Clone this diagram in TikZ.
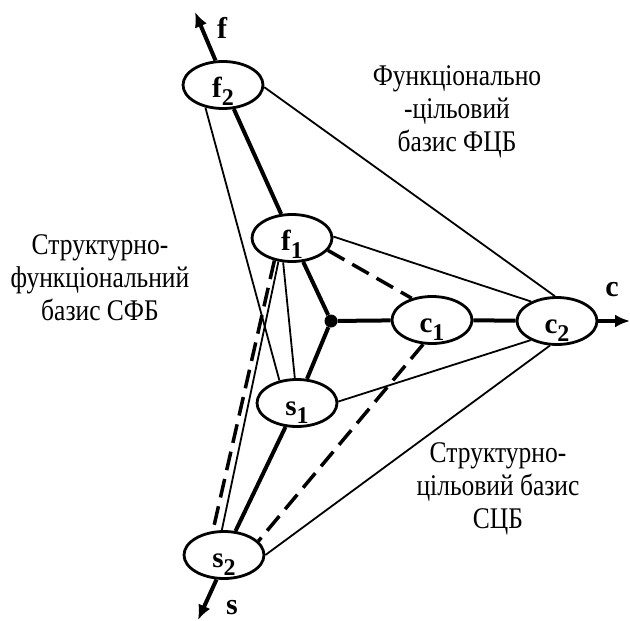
\documentclass[tikz,border=0pt]{standalone}
\usepackage{fontspec}
\setmainfont{Liberation Serif}
\newfontfamily\narrowfont[FakeStretch=0.85]{Liberation Serif}
\usetikzlibrary{shapes.geometric,arrows.meta}
\newcommand{\nlab}[2]{#1\raisebox{-8pt}{\fontsize{24}{24}\selectfont #2}}
\begin{document}
\begin{tikzpicture}[x=1pt,y=-1pt,
  nd/.style={ellipse,draw,line width=2.8pt,minimum width=80pt,minimum height=47pt,inner sep=0pt,text height=25pt,text depth=0pt,font=\rmfamily\bfseries\fontsize{29}{29}\selectfont},
  thickln/.style={line width=4pt},
  thinln/.style={line width=1.8pt},
  dashln/.style={line width=3.5pt,dash pattern=on 19pt off 9pt},
  axisln/.style={line width=4pt,-{Latex[length=15pt,width=13pt]}},
  lbl/.style={font=\narrowfont\fontsize{30}{33}\selectfont,align=center,inner sep=0pt},
  axlbl/.style={font=\rmfamily\bfseries\fontsize{30}{30}\selectfont,inner sep=0pt}]
\useasboundingbox (0,0) rectangle (630,621);
\node[nd] (f2) at (223,85) {\nlab{f}{2}};
\node[nd] (f1) at (292,238) {\nlab{f}{1}};
\node[nd] (c1) at (432,320) {\nlab{c}{1}};
\node[nd] (c2) at (557,321) {\nlab{c}{2}};
\node[nd] (s1) at (297,403) {\nlab{s}{1}};
\node[nd] (s2) at (224,555) {\nlab{s}{2}};
\node[circle,fill=black,inner sep=0pt,minimum size=13pt] (j) at (331,321) {};
\coordinate (ftip) at (195,12);
\coordinate (stip) at (198,620);
\coordinate (ctip) at (630,321);
\draw[thickln] (f2) -- (f1);
\draw[thickln] (f1) -- (j);
\draw[thickln] (s1) -- (j);
\draw[thickln] (j) -- (c1);
\draw[thickln] (c1) -- (c2);
\draw[thickln] (s1) -- (s2);
\draw[thinln] (f2.232) -- (s1.128);
\draw[thinln] (f1.250) -- (s1.95);
\draw[thinln] (f1.240) -- (s2.95);
\draw[thinln] (f1.2) -- (c2.143);
\draw[thinln] (f2.-3) -- (c2.95);
\draw[thinln] (s1.2) -- (c2.216);
\draw[thinln] (s2.0) -- (c2.254);
\draw[dashln] (f1.-19) -- (c1.133);
\draw[dashln] (c1.250) -- (s2.22);
\draw[dashln] (f1.232) -- (s2.115);
\draw[axisln] (f2.107) -- (ftip);
\draw[axisln] (s2.253) -- (stip);
\draw[axisln] (c2.0) -- (ctip);
\node[lbl] (tfc) at (457,112) {Функціонально\\-цільовий\\базис ФЦБ};
\node[lbl] (tsf) at (100,278) {Структурно-\\функціональний\\базис СФБ};
\node[lbl] (tsc) at (498,489) {Структурно-\\цільовий базис\\СЦБ};
\node[axlbl] (lf) at (222,28) {f};
\node[axlbl] (ls) at (232,608) {s};
\node[axlbl] (lc) at (612,290) {c};
\end{tikzpicture}
\end{document}
